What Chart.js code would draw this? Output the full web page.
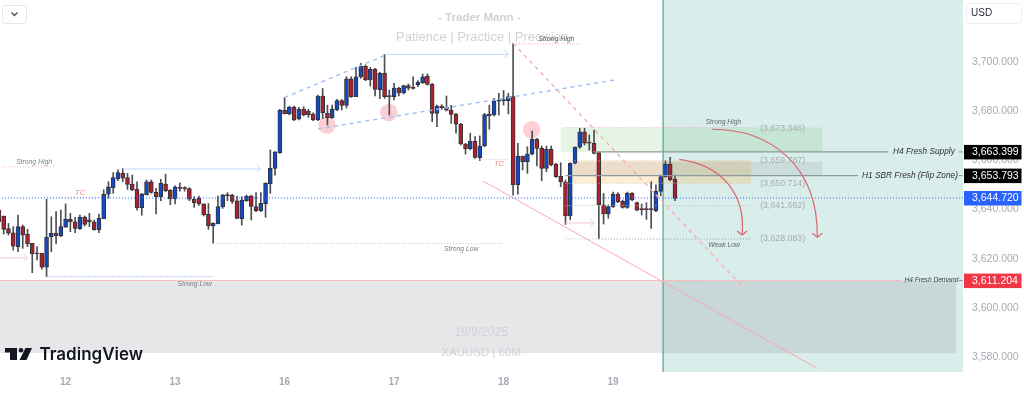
<!DOCTYPE html>
<html>
<head>
<meta charset="utf-8">
<title>XAUUSD 60M</title>
<script src="https://cdn.jsdelivr.net/npm/chart.js@4"></script>
<style>
  html, body { margin: 0; padding: 0; background: #fff; overflow: hidden; }
  canvas { display: block; }
</style>
</head>
<body>
<canvas id="goldChart" width="1024" height="393"></canvas>
<script>
// hourly candles, first one is cut by the left edge of the chart
const firstBar = -1;
const opens = [3639.8,3637.4,3632.3,3630.6,3625.0,3633.1,3630.0,3626.3,3622.25,3622.25,3616.6,3629.0,3630.4,3629.3,3632.9,3636.2,3635.0,3632.3,3637.0,3635.9,3635.0,3631.9,3636.3,3646.3,3648.9,3652.4,3654.7,3652.95,3650.4,3648.2,3640.8,3646.05,3651.3,3647.0,3645.25,3650.4,3647.8,3644.3,3649.0,3648.8,3648.5,3644.2,3644.6,3642.3,3638.1,3633.35,3634.3,3641.05,3645.9,3645.8,3643.6,3636.3,3643.6,3645.5,3641.2,3639.6,3642.4,3650.4,3656.7,
  3663.1,3680.3,3678.9,3681.6,3676.75,3680.8,3680.0,3678.8,3676.35,3686.1,3679.05,3677.3,3680.4,3684.2,3682.3,3693.1,3685.8,3693.8,3698.1,3692.6,3696.9,3688.65,3695.3,3686.0,3685.8,3689.3,3687.3,3690.3,3689.5,3690.7,3691.5,3694.1,3690.8,3679.05,3682.0,3681.5,3680.4,3678.65,3674.7,3666.6,3664.7,3667.7,3661.1,3665.8,3678.1,3678.4,3684.0,3684.2,3684.2,3685.8,
  3650.0,3661.7,3659.3,3662.5,3668.6,3664.85,3656.7,3664.45,3658.5,3653.5,3651.2,3637.4,3658.8,3665.3,3671.5,3667.0,3666.9,3663.1,3641.9,3638.2,3641.2,3646.2,3643.35,3640.9,3646.6,3642.8,3640.1,3640.1,3640.1,3639.5,3647.4,3653.4,3658.5,3652.3];
const highs = [3641.1,3637.4,3634.4,3633.1,3637.8,3633.75,3632.0,3626.3,3625.0,3622.25,3644.2,3637.1,3639.2,3639.8,3642.3,3638.5,3636.9,3637.8,3637.4,3638.5,3635.8,3638.2,3648.0,3651.3,3655.0,3656.1,3656.7,3654.7,3654.0,3651.3,3646.6,3652.0,3652.0,3648.6,3652.3,3654.4,3648.2,3649.6,3650.9,3649.3,3648.9,3645.25,3645.5,3642.3,3642.5,3634.7,3645.5,3646.2,3646.9,3646.3,3645.5,3645.25,3645.9,3645.9,3646.9,3646.9,3650.9,3664.2,3663.5,
  3680.7,3685.4,3682.0,3682.0,3681.5,3681.8,3680.7,3679.3,3686.5,3689.1,3682.4,3682.4,3684.7,3684.7,3693.9,3693.9,3697.7,3699.3,3698.7,3697.7,3697.3,3695.7,3703.0,3688.5,3691.2,3689.6,3690.5,3691.0,3693.9,3692.3,3695.0,3695.0,3691.2,3682.4,3682.6,3686.1,3682.3,3679.05,3675.0,3666.9,3671.0,3669.6,3669.9,3679.05,3682.4,3685.1,3687.2,3688.3,3687.2,3707.45,
  3666.9,3661.7,3665.5,3671.9,3668.9,3665.8,3665.8,3665.8,3658.8,3659.0,3652.0,3659.0,3665.5,3673.0,3673.0,3670.3,3672.3,3663.4,3646.6,3641.9,3647.1,3646.9,3643.9,3647.1,3646.9,3643.1,3642.3,3642.8,3651.3,3650.0,3654.0,3659.85,3661.2,3654.0];
const lows = [3633.8,3630.1,3629.7,3623.6,3622.9,3624.3,3625.0,3614.4,3619.55,3615.8,3612.8,3622.9,3626.05,3629.0,3632.8,3631.05,3630.6,3632.0,3633.35,3633.1,3631.7,3630.6,3636.3,3644.6,3646.6,3651.7,3651.3,3648.2,3647.7,3639.8,3637.7,3645.9,3646.6,3638.2,3643.6,3647.3,3642.0,3642.3,3647.5,3647.5,3643.6,3640.9,3641.7,3637.4,3632.0,3626.3,3634.15,3640.5,3643.6,3642.5,3636.3,3633.75,3643.35,3635.8,3639.2,3639.2,3636.9,3646.6,3654.0,
  3662.8,3678.8,3678.4,3676.1,3676.35,3678.0,3677.4,3676.1,3676.1,3676.9,3674.3,3677.0,3680.1,3680.4,3681.2,3685.5,3685.8,3693.25,3692.3,3690.1,3686.1,3685.0,3685.1,3678.4,3684.5,3686.1,3686.9,3688.5,3688.9,3689.9,3691.2,3690.5,3675.7,3673.6,3680.7,3680.0,3675.0,3671.0,3666.2,3662.5,3664.2,3660.8,3659.9,3665.5,3672.6,3678.0,3678.4,3682.4,3678.8,3645.9,
  3646.3,3656.1,3654.7,3662.15,3657.7,3651.7,3655.4,3657.7,3653.1,3649.3,3634.0,3635.8,3658.5,3664.85,3666.2,3664.2,3662.55,3628.3,3634.15,3636.5,3640.9,3642.8,3640.6,3640.5,3643.6,3639.5,3637.8,3636.05,3632.4,3639.2,3645.5,3653.1,3651.7,3643.6];
const closes = [3635.1,3632.0,3630.4,3625.2,3633.1,3629.7,3626.05,3622.0,3622.0,3616.6,3628.75,3630.4,3629.4,3633.1,3636.2,3635.0,3632.4,3637.0,3634.0,3635.0,3631.9,3636.45,3646.2,3649.2,3652.95,3655.0,3652.8,3650.25,3648.0,3640.8,3646.3,3651.3,3647.0,3645.25,3650.65,3647.7,3644.3,3649.2,3648.6,3648.5,3644.2,3642.8,3642.3,3637.9,3633.35,3634.4,3641.2,3645.9,3645.65,3643.35,3636.45,3643.9,3645.5,3641.3,3639.6,3642.5,3650.65,3656.7,3663.4,
  3680.3,3678.9,3681.6,3676.35,3680.8,3678.4,3678.5,3676.35,3686.1,3679.3,3677.3,3680.8,3684.2,3682.3,3693.1,3685.8,3693.9,3698.1,3692.6,3696.9,3688.8,3695.3,3685.8,3685.8,3689.3,3687.3,3690.3,3689.3,3689.2,3691.6,3693.9,3690.8,3679.05,3682.0,3681.35,3680.3,3678.65,3674.7,3666.6,3664.7,3667.7,3661.2,3665.8,3678.5,3678.8,3684.1,3684.2,3684.3,3685.8,3650.0,
  3661.7,3659.4,3662.5,3668.6,3664.85,3656.7,3664.45,3658.1,3653.4,3651.2,3637.4,3658.8,3665.3,3671.5,3666.9,3666.9,3662.8,3641.9,3638.2,3641.2,3646.2,3643.2,3640.9,3646.6,3643.9,3639.8,3640.0,3640.0,3640.0,3647.4,3653.4,3658.5,3652.0,3644.55];

const yTicks = [3580, 3600, 3620, 3640, 3660, 3680, 3700];
const dayTicks = [13, 36, 59, 82, 105, 128];
const dayLabels = ['12', '13', '16', '17', '18', '19'];

// price tags on the right axis
const priceTags = [
  { price: 3663.399, color: '#000000' },
  { price: 3653.793, color: '#000000' },
  { price: 3644.720, color: '#2962ff' },
  { price: 3611.204, color: '#f23645' }
];

// zones: [bar from, bar to, price top, price bottom, fill]
const zones = [
  [138.5, 201.5, 3725.03, 3574.12, 'rgba(0,137,123,0.15)'],
  [-1, 200, 3611.0, 3581.8, 'rgba(120,123,134,0.18)'],
  [117, 172, 3673.3, 3663.4, 'rgba(76,175,80,0.14)'],
  [119.6, 157, 3659.8, 3650.7, 'rgba(255,152,0,0.17)'],
  [119.6, 172, 3659.4, 3654.0, 'rgba(120,123,134,0.15)']
];

// lines: [bar, price, bar, price, colour, width, dash]
const dotted = [1, 2];
const dashed = [4, 4];
const segments = [
  [-1, 3644.72, 201.5, 3644.72, '#2962ff', 1, dotted],
  [-1, 3611.204, 188.6, 3611.204, '#f5b8bb', 1, []],
  [123.8, 3663.399, 185.8, 3663.399, '#8d9a9a', 1.4, []],
  [118, 3653.793, 179.5, 3653.793, '#8d9a9a', 1.4, []],
  [200.6, 3663.399, 201.5, 3663.399, '#8d9a9a', 1, []],
  [200.6, 3653.793, 201.5, 3653.793, '#8d9a9a', 1, []],
  [200.6, 3611.204, 201.5, 3611.204, '#8d9a9a', 1, []],
  [59, 3685.5, 80, 3702.5, '#9cc0f7', 1.4, dashed],
  [66, 3672.7, 128.4, 3692.6, '#9cc0f7', 1.4, dashed],
  [107, 3707.5, 155.7, 3607.7, '#f4b0b5', 1.4, dashed],
  [100.7, 3651.6, 170.9, 3575.6, '#f6a9ad', 1, []],
  [80, 3703, 106, 3703, '#c6d6fb', 1, []],
  [25, 3656.5, 54, 3656.5, '#c6d6fb', 1, []],
  [-1, 3620.4, 5, 3620.4, '#f8c6c9', 1, []],
  [118, 3634.6, 124, 3634.6, '#f8c6c9', 1, []],
  [-1, 3657.4, 11, 3657.4, '#f5b8bb', 1, dotted],
  [9, 3644.9, 21, 3644.9, '#bfc1c7', 1, dotted],
  [9, 3612.8, 44, 3612.8, '#6f9af2', 1, dotted],
  [44, 3626.2, 105, 3626.2, '#b5bcc9', 1, dotted],
  [100, 3660.4, 106, 3660.4, '#b5bcc9', 1, dotted],
  [107, 3707.2, 121, 3707.2, '#f5a0a5', 1, dotted],
  [118, 3673.346, 157, 3673.346, '#eeb4b4', 1, dotted],
  [118, 3659.787, 157, 3659.787, '#c9c4b4', 1, dotted],
  [118, 3650.714, 157, 3650.714, '#c9c4b4', 1, dotted],
  [118, 3641.662, 157, 3641.662, '#b9bcc0', 1, dotted],
  [118, 3628.083, 125, 3628.083, '#b9bcc0', 1, dotted],
  [125, 3628.083, 157, 3628.083, '#8f9595', 1, dotted]
];

// arrow heads: [bar, price] of the tip, pointing right
const blueArrowTips = [[54, 3656.5], [106, 3703]];
const pinkArrowTips = [[5, 3620.4], [124, 3634.6]];

// curved targets: start, two control points, end as [bar, price]
const curves = [
  [[141.9, 3660.4], [151.6, 3657.9], [155.8, 3644.9], [155.1, 3630.1]],
  [[148.8, 3672.6], [161, 3672.6], [171, 3658], [170.9, 3629.2]]
];

const circles = [
  { x: 67.9, y: 3674.3 },
  { x: 80.9, y: 3679.4 },
  { x: 110.9, y: 3672.4 }
];

// labels: [text, bar, price, colour, font]
const notes = '"Liberation Sans", Arial, sans-serif';
const labels = [
  ['Strong High', 2.6, 3659.4, '#7b7e85', 'italic 6.8px ' + notes],
  ['TC', 15, 3646.8, '#f0868c', 'italic 7.5px ' + notes],
  ['Strong Low', 36.5, 3609.8, '#7b7e85', 'italic 6.8px ' + notes],
  ['Strong Low', 92.5, 3624.1, '#7b7e85', 'italic 6.8px ' + notes],
  ['TC', 103, 3658.6, '#f0868c', 'italic 7.5px ' + notes],
  ['Strong High', 112.3, 3709.2, '#55585f', 'italic 6.8px ' + notes],
  ['Strong High', 147.4, 3675.3, '#63666c', 'italic 6.8px ' + notes],
  ['Weak Low', 148, 3625.7, '#63666c', 'italic 6.8px ' + notes],
  ['H4 Fresh Supply', 186.8, 3663.3, '#2f3136', 'italic 8.3px ' + notes],
  ['H1 SBR Fresh (Flip Zone)', 180.3, 3653.7, '#2f3136', 'italic 8.3px ' + notes],
  ['H4 Fresh Demand', 189.2, 3611.2, '#3d4045', 'italic 6.6px ' + notes],
  ['(3,673.346)', 158.9, 3673.0, '#a8acb0', '8.8px ' + notes],
  ['(3,659.787)', 158.9, 3659.8, '#a8acb0', '8.8px ' + notes],
  ['(3,650.714)', 158.9, 3650.7, '#a8acb0', '8.8px ' + notes],
  ['(3,641.662)', 158.9, 3641.7, '#a8acb0', '8.8px ' + notes],
  ['(3,628.083)', 158.9, 3628.1, '#a8acb0', '8.8px ' + notes]
];

const watermarks = [
  ['- Trader Mann -', 99.9, 3718, 'bold 11.5px ' + notes],
  ['Patience | Practice | Precision', 100.5, 3710, '13px ' + notes],
  ['19/9/2025', 100.3, 3590, '12px ' + notes],
  ['XAUUSD | 60M', 100.3, 3582, '11.5px ' + notes]
];

const barIndex = opens.map((_, i) => firstBar + i);
const upBlue = '#1449c4';
const downRed = '#ad202e';

function drawArrowHead(ctx, x, y, color) {
  ctx.strokeStyle = color;
  ctx.lineWidth = 1;
  ctx.setLineDash([]);
  ctx.beginPath();
  ctx.moveTo(x - 4, y - 4);
  ctx.lineTo(x, y);
  ctx.lineTo(x - 4, y + 4);
  ctx.stroke();
}

const zonesPlugin = {
  id: 'zones',
  beforeDatasetsDraw(chart) {
    const { ctx, scales: { x, y }, chartArea } = chart;
    ctx.save();
    zones.forEach(([x0, x1, top, bottom, fill]) => {
      ctx.fillStyle = fill;
      const left = Math.max(x.getPixelForValue(x0), chartArea.left);
      const right = Math.min(x.getPixelForValue(x1), chartArea.right);
      ctx.fillRect(left, y.getPixelForValue(top), right - left, y.getPixelForValue(bottom) - y.getPixelForValue(top));
    });
    // start of the forecast box
    ctx.strokeStyle = '#4ea394';
    ctx.lineWidth = 1.2;
    ctx.beginPath();
    ctx.moveTo(x.getPixelForValue(zones[0][0]), chartArea.top);
    ctx.lineTo(x.getPixelForValue(zones[0][0]), chartArea.bottom);
    ctx.stroke();
    // watermark sits under the candles
    ctx.fillStyle = '#d0d2d8';
    ctx.textAlign = 'center';
    ctx.textBaseline = 'middle';
    watermarks.forEach(([text, bar, price, font]) => {
      ctx.font = font;
      ctx.fillText(text, x.getPixelForValue(bar), y.getPixelForValue(price));
    });
    ctx.restore();
  },
  afterDraw(chart) {
    const { ctx, scales: { x, y } } = chart;
    ctx.save();

    blueArrowTips.forEach(([bar, price]) => {
      drawArrowHead(ctx, x.getPixelForValue(bar), y.getPixelForValue(price), '#c6d6fb');
    });
    pinkArrowTips.forEach(([bar, price]) => {
      drawArrowHead(ctx, x.getPixelForValue(bar), y.getPixelForValue(price), '#f8c6c9');
    });

    // curved targets
    curves.forEach(points => {
      const [a, b, c, d] = points.map(p => [x.getPixelForValue(p[0]), y.getPixelForValue(p[1])]);
      ctx.strokeStyle = '#d9656c';
      ctx.lineWidth = 1.2;
      ctx.setLineDash([]);
      ctx.beginPath();
      ctx.moveTo(a[0], a[1]);
      ctx.bezierCurveTo(b[0], b[1], c[0], c[1], d[0], d[1]);
      ctx.stroke();
      ctx.beginPath();
      ctx.moveTo(d[0] - 5, d[1] - 3);
      ctx.lineTo(d[0], d[1] + 1);
      ctx.lineTo(d[0] + 5, d[1] - 3);
      ctx.stroke();
    });

    ctx.textBaseline = 'middle';
    ctx.textAlign = 'left';
    labels.forEach(([text, bar, price, color, font]) => {
      ctx.font = font;
      ctx.fillStyle = color;
      ctx.fillText(text, x.getPixelForValue(bar), y.getPixelForValue(price));
    });

    // price tags cover the axis ticks
    ctx.font = '10.5px "Liberation Sans", Arial, sans-serif';
    ctx.textAlign = 'left';
    priceTags.forEach(tag => {
      const py = y.getPixelForValue(tag.price);
      ctx.fillStyle = tag.color;
      ctx.fillRect(964, py - 7, 57.5, 14.5);
      ctx.fillStyle = '#ffffff';
      ctx.fillText(tag.price.toLocaleString('en-US', { minimumFractionDigits: 3 }), 972, py + 0.5);
    });

    // scale menu, top left
    ctx.strokeStyle = '#e3e5ea';
    ctx.fillStyle = '#ffffff';
    ctx.lineWidth = 1;
    ctx.beginPath();
    ctx.roundRect(2.5, 5.5, 24, 18, 3);
    ctx.fill();
    ctx.stroke();
    ctx.strokeStyle = '#4a4d55';
    ctx.lineWidth = 1.3;
    ctx.beginPath();
    ctx.moveTo(11.5, 12.5);
    ctx.lineTo(14.5, 15.5);
    ctx.lineTo(17.5, 12.5);
    ctx.stroke();

    // USD button
    ctx.strokeStyle = '#eceef2';
    ctx.lineWidth = 1;
    ctx.beginPath();
    ctx.roundRect(966.5, 3.5, 55, 20, 3);
    ctx.stroke();
    ctx.fillStyle = '#2a2e39';
    ctx.font = '10px "Liberation Sans", Arial, sans-serif';
    ctx.fillText('USD', 971, 13.5);

    // TradingView logo
    ctx.fillStyle = '#131722';
    ctx.fillRect(5, 348, 12, 4.5);
    ctx.fillRect(10, 348, 7, 12);
    ctx.beginPath();
    ctx.arc(21, 350.3, 2.3, 0, Math.PI * 2);
    ctx.fill();
    ctx.beginPath();
    ctx.moveTo(25.5, 348);
    ctx.lineTo(32, 348);
    ctx.lineTo(26.5, 360);
    ctx.lineTo(19.5, 360);
    ctx.closePath();
    ctx.fill();
    ctx.font = '600 17px Inter, "Liberation Sans", sans-serif';
    ctx.fillText('TradingView', 39.5, 354.5);
    ctx.restore();
  }
};

const trendSets = segments.map(([x0, y0, x1, y1, color, width, dash]) => ({
  type: 'line',
  data: [{ x: x0, y: y0 }, { x: x1, y: y1 }],
  borderColor: color,
  borderWidth: width,
  borderDash: dash,
  pointRadius: 0,
  fill: false,
  tension: 0,
  order: 1
}));

const chart = new Chart(document.getElementById('goldChart').getContext('2d'), {
  data: {
    datasets: [
      {
        type: 'scatter',
        data: circles,
        pointRadius: 8.7,
        pointBorderWidth: 0,
        backgroundColor: 'rgba(242,54,69,0.24)',
        order: 5
      },
      {
        type: 'bar',
        data: barIndex.map((k, i) => ({ x: k, y: [lows[i], highs[i]] })),
        backgroundColor: '#4c4f55',
        barThickness: 1,
        grouped: false,
        order: 4
      },
      {
        type: 'bar',
        data: barIndex.map((k, i) => ({ x: k, y: [opens[i], closes[i]] })),
        backgroundColor: barIndex.map((k, i) => (closes[i] >= opens[i] ? upBlue : downRed)),
        borderColor: '#333338',
        borderWidth: 1,
        borderSkipped: false,
        barThickness: 4,
        minBarLength: 1,
        grouped: false,
        order: 3
      },
      ...trendSets
    ]
  },
  options: {
    responsive: false,
    animation: false,
    events: [],
    layout: { padding: 0, autoPadding: false },
    plugins: { legend: { display: false }, tooltip: { enabled: false } },
    scales: {
      x: {
        type: 'linear',
        offset: false,
        min: -0.78,
        max: 201.5,
        grid: { display: false, drawTicks: false },
        border: { display: false },
        afterBuildTicks(scale) {
          scale.ticks = dayTicks.map(v => ({ value: v }));
        },
        afterFit(scale) {
          scale.height = 21;
          scale.paddingLeft = 0;
          scale.paddingRight = 0;
        },
        ticks: {
          maxRotation: 0,
          autoSkip: false,
          padding: 4,
          color: '#a8abb4',
          font: { family: '"Liberation Sans", Arial, sans-serif', size: 10, weight: 'bold' },
          callback: v => dayLabels[dayTicks.indexOf(v)]
        }
      },
      y: {
        position: 'right',
        offset: false,
        min: 3574.12,
        max: 3725.03,
        grid: { display: false, drawTicks: false },
        border: { display: false },
        afterBuildTicks(scale) {
          scale.ticks = yTicks.map(v => ({ value: v }));
        },
        afterFit(scale) {
          scale.width = 61;
          scale.paddingTop = 0;
          scale.paddingBottom = 0;
        },
        ticks: {
          padding: 9,
          color: '#a8abb4',
          font: { family: '"Liberation Sans", Arial, sans-serif', size: 10.5 },
          callback: v => v.toLocaleString('en-US', { minimumFractionDigits: 3 })
        }
      }
    }
  },
  plugins: [zonesPlugin]
});
</script>
</body>
</html>
